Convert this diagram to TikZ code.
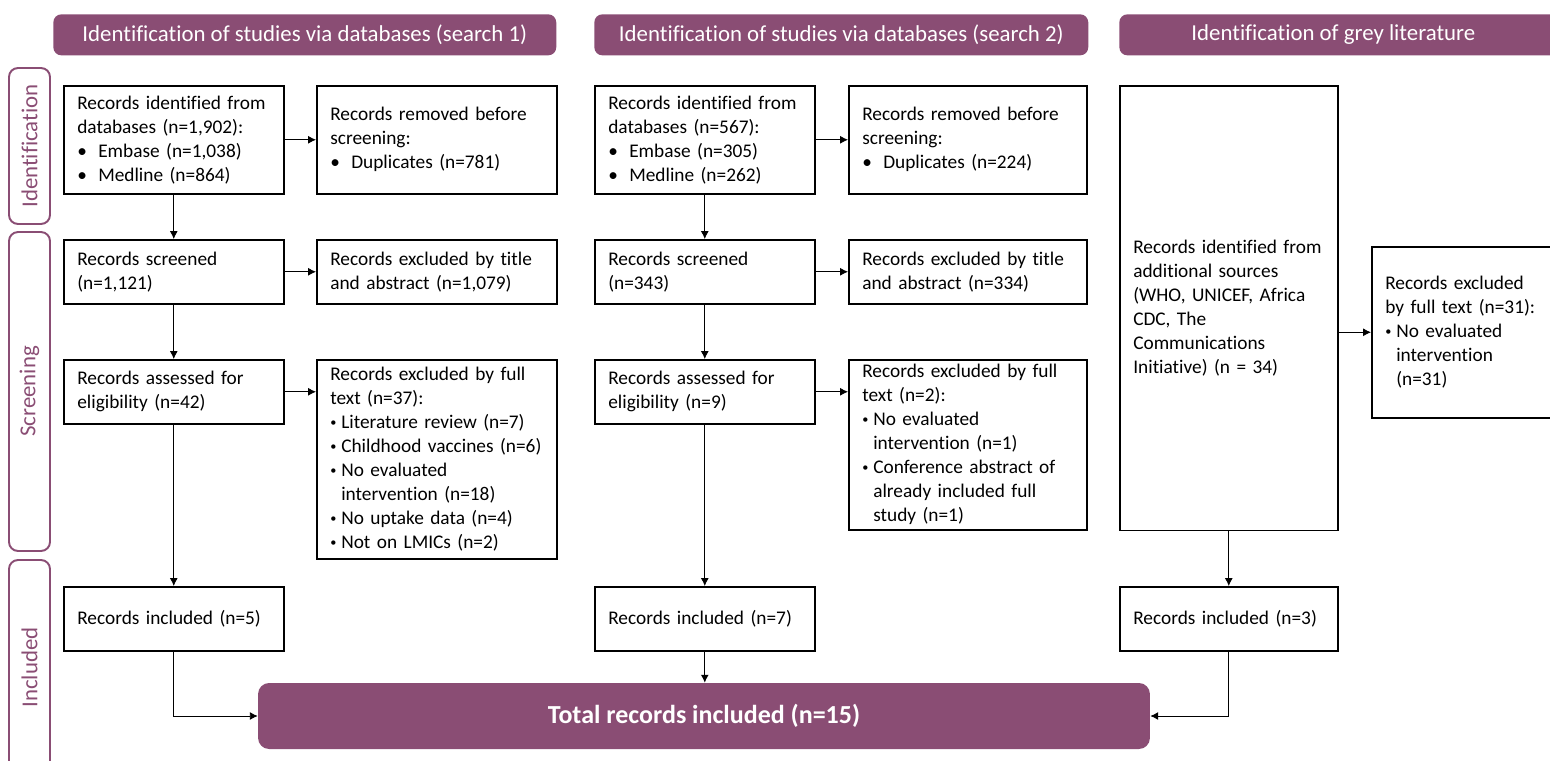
\documentclass[tikz,border=0pt]{standalone}
\usepackage{fontspec}
\setmainfont[Ligatures=NoCommon]{Carlito}
\usepackage{tikz}
\usetikzlibrary{arrows.meta}
\usetikzlibrary{calc}
\usetikzlibrary{positioning}
\definecolor{prisma}{HTML}{8A4D74}
\tikzstyle{block} = [draw, line width=0.9pt, rectangle, anchor=north west,
    align=left, inner xsep=0.27cm, inner ysep=0pt,
    font=\fontsize{11}{13.66}\selectfont]
\tikzstyle{header} = [fill=prisma, rounded corners=0.16cm, anchor=north west,
    text=white, inner sep=0pt, font=\fontsize{13}{15}\selectfont]
\tikzstyle{phase} = [draw=prisma, line width=1.1pt, rounded corners=0.18cm,
    text=prisma, inner sep=0pt, rotate=90, font=\fontsize{13}{15}\selectfont]
\tikzstyle{total} = [fill=prisma, rounded corners=0.22cm, text=white,
    inner sep=0pt, font=\fontsize{14.8}{17}\selectfont\bfseries]
\tikzstyle{line} = [draw, line width=0.5pt]
\newcommand{\wbul}{\makebox[0.42cm][l]{\textbullet}}
\newcommand{\nbul}{\makebox[0.22cm][l]{\raisebox{0.25ex}{\fontsize{7}{7}\selectfont\textbullet}}}
\newcommand{\hangin}{\hspace*{0.22cm}}

\begin{document}
\begin{tikzpicture}[x=0.02cm, y=-0.02cm, >={Latex[length=4.5pt,width=4.5pt]}]
    \clip (0,0) rectangle (1550,760);

    \node[header, minimum width=10.06cm, minimum height=0.82cm] (head1) at (53,14) {Identification of studies via databases (search 1)};
    \node[header, minimum width=9.88cm, minimum height=0.82cm] (head2) at (594,14) {Identification of studies via databases (search 2)};
    \node[header, minimum width=9.36cm, minimum height=0.82cm] (head3) at (1119,14) {\hspace*{-0.8cm}Identification of grey literature};

    \node[phase, minimum width=3.12cm, minimum height=0.82cm] (ident) at (29.5,146) {Identification};
    \node[phase, minimum width=6.38cm, minimum height=0.82cm] (screen) at (29.5,391.5) {Screening};
    \node[phase, minimum width=4.3cm, minimum height=0.82cm] (incl) at (29.5,667.5) {Included};

    % search 1
    \node[block, minimum width=4.4cm, text width=3.86cm, minimum height=2.16cm] (found1) at (63,85) {Records identified from\\databases (n=1,902):\\\wbul Embase (n=1,038)\\\wbul Medline (n=864)};
    \node[block, minimum width=4.8cm, text width=4.26cm, minimum height=2.16cm] (dupl1) at (316,85) {Records removed before\\screening:\\\wbul Duplicates (n=781)};
    \node[block, minimum width=4.4cm, text width=3.86cm, minimum height=1.28cm] (scrn1) at (63,239) {Records screened\\(n=1,121)};
    \node[block, minimum width=4.8cm, text width=4.26cm, minimum height=1.28cm] (title1) at (316,239) {Records excluded by title\\and abstract (n=1,079)};
    \node[block, minimum width=4.4cm, text width=3.86cm, minimum height=1.28cm] (elig1) at (63,359) {Records assessed for\\eligibility (n=42)};
    \node[block, minimum width=4.8cm, text width=4.26cm, minimum height=3.98cm] (full1) at (316,359) {Records excluded by full\\text (n=37):\\\nbul Literature review (n=7)\\\nbul Childhood vaccines (n=6)\\\nbul No evaluated\\\hangin intervention (n=18)\\\nbul No uptake data (n=4)\\\nbul Not on LMICs (n=2)};
    \node[block, minimum width=4.4cm, text width=3.86cm, minimum height=1.28cm] (incl1) at (63,586) {Records included (n=5)};

    % search 2
    \node[block, minimum width=4.4cm, text width=3.86cm, minimum height=2.16cm] (found2) at (594,85) {Records identified from\\databases (n=567):\\\wbul Embase (n=305)\\\wbul Medline (n=262)};
    \node[block, minimum width=4.76cm, text width=4.22cm, minimum height=2.16cm] (dupl2) at (848,85) {Records removed before\\screening:\\\wbul Duplicates (n=224)};
    \node[block, minimum width=4.4cm, text width=3.86cm, minimum height=1.28cm] (scrn2) at (594,239) {Records screened\\(n=343)};
    \node[block, minimum width=4.76cm, text width=4.22cm, minimum height=1.28cm] (title2) at (848,239) {Records excluded by title\\and abstract (n=334)};
    \node[block, minimum width=4.4cm, text width=3.86cm, minimum height=1.28cm] (elig2) at (594,359) {Records assessed for\\eligibility (n=9)};
    \node[block, minimum width=4.76cm, text width=4.22cm, minimum height=3.4cm] (full2) at (848,359) {Records excluded by full\\text (n=2):\\\nbul No evaluated\\\hangin intervention (n=1)\\\nbul Conference abstract of\\\hangin already included full\\\hangin study (n=1)};
    \node[block, minimum width=4.4cm, text width=3.86cm, minimum height=1.28cm] (incl2) at (594,586) {Records included (n=7)};

    % grey literature
    \node[block, minimum width=4.36cm, text width=3.82cm, minimum height=8.9cm] (grey) at (1119,85) {Records identified from\\additional sources\\(WHO, UNICEF, Africa\\CDC, The\\Communications\\Initiative) (n = 34)};
    \node[block, minimum width=4.36cm, text width=3.82cm, minimum height=3.42cm] (full3) at (1371,246) {Records excluded\\by full text (n=31):\\\nbul No evaluated\\\hangin intervention\\\hangin (n=31)};
    \node[block, minimum width=4.36cm, text width=3.82cm, minimum height=1.28cm] (incl3) at (1119,586) {Records included (n=3)};

    \node[total, minimum width=17.84cm, minimum height=1.32cm] (total) at (704,716) {Total records included (n=15)};

    \draw[line, ->] (found1) -- (found1 -| dupl1.west);
    \draw[line, ->] (found1) -- (scrn1);
    \draw[line, ->] (scrn1) -- (scrn1 -| title1.west);
    \draw[line, ->] (scrn1) -- (elig1);
    \draw[line, ->] (elig1) -- (elig1 -| full1.west);
    \draw[line, ->] (elig1) -- (incl1);
    \draw[line, ->] (incl1) |- (total);

    \draw[line, ->] (found2) -- (found2 -| dupl2.west);
    \draw[line, ->] (found2) -- (scrn2);
    \draw[line, ->] (scrn2) -- (scrn2 -| title2.west);
    \draw[line, ->] (scrn2) -- (elig2);
    \draw[line, ->] (elig2) -- (elig2 -| full2.west);
    \draw[line, ->] (elig2) -- (incl2);
    \draw[line, ->] (incl2) -- (incl2 |- total.north);

    \draw[line, ->] (full3 -| grey.east) -- (full3);
    \draw[line, ->] (grey) -- (incl3);
    \draw[line, ->] (incl3) |- (total);
\end{tikzpicture}
\end{document}
